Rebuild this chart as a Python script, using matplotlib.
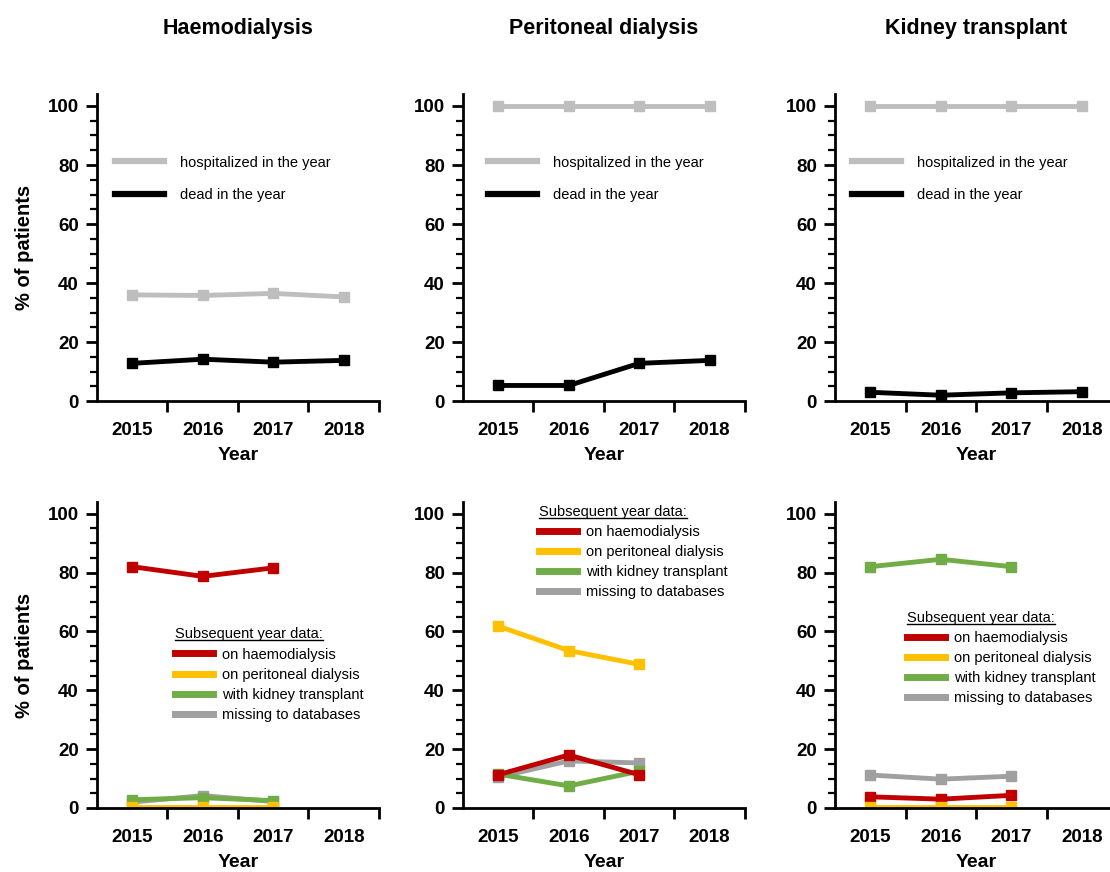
import numpy as np
import matplotlib
matplotlib.use("Agg")
import matplotlib.pyplot as plt
from matplotlib.lines import Line2D
from matplotlib.ticker import MultipleLocator, FixedLocator

plt.rcParams['font.family'] = ['Liberation Sans', 'DejaVu Sans']

years = ['2015', '2016', '2017', '2018']
years_next = ['2015', '2016', '2017']
modalities = ['Haemodialysis', 'Peritoneal dialysis', 'Kidney transplant']

# top row: % hospitalized / dead in the year
hosp_hd = [36.0, 35.8, 36.5, 35.3]
dead_hd = [12.8, 14.2, 13.2, 13.8]
hosp_pd = [100, 100, 100, 100]
dead_pd = [5.3, 5.3, 12.8, 13.8]
hosp_tx = [100, 100, 100, 100]
dead_tx = [3.0, 2.0, 2.8, 3.2]

# bottom row: status in the subsequent year
next_hd_hd = [82.0, 78.7, 81.6]
next_hd_pd = [0.3, 0.3, 0.3]
next_hd_tx = [2.8, 3.5, 2.5]
next_hd_miss = [2.0, 4.2, 2.2]

next_pd_hd = [11.3, 18.0, 11.3]
next_pd_pd = [61.8, 53.5, 48.8]
next_pd_tx = [11.5, 7.5, 12.5]
next_pd_miss = [10.5, 16.0, 15.3]

next_tx_hd = [3.8, 3.0, 4.3]
next_tx_pd = [0.3, 0.3, 0.3]
next_tx_tx = [82.0, 84.5, 82.0]
next_tx_miss = [11.2, 9.8, 10.8]

top_labels = ['hospitalized in the year', 'dead in the year']
top_colors = ['#BEBEBE', '#000000']
bot_labels = ['on haemodialysis', 'on peritoneal dialysis',
              'with kidney transplant', 'missing to databases']
bot_colors = ['#C00000', '#FFC000', '#70AD47', '#A0A0A0']

top_data = [(hosp_hd, dead_hd), (hosp_pd, dead_pd), (hosp_tx, dead_tx)]
bot_data = [(next_hd_hd, next_hd_pd, next_hd_tx, next_hd_miss),
            (next_pd_hd, next_pd_pd, next_pd_tx, next_pd_miss),
            (next_tx_hd, next_tx_pd, next_tx_tx, next_tx_miss)]
# draw order in each bottom panel (last on top)
bot_order = [[3, 2, 1, 0], [3, 2, 0, 1], [3, 0, 1, 2]]

fig = plt.figure(figsize=(11.1, 8.72), dpi=100)

lefts = [0.0874, 0.4171, 0.7523]
width = 0.254
top_leg_x = [0.064, 0.089, 0.06]
bot_leg_pos = [(0.277, 0.59), (0.27, 0.99), (0.255, 0.645)]


def style_axis(ax, first):
    x = np.arange(1, 5)
    ax.set_xlim(0.5, 4.5)
    ax.set_ylim(0, 104)
    ax.xaxis.set_major_locator(FixedLocator(x))
    ax.set_xticklabels(years)
    ax.xaxis.set_minor_locator(FixedLocator(x + 0.5))
    ax.tick_params(axis='x', which='major', length=0, pad=15, labelsize=13.5)
    ax.tick_params(axis='x', which='minor', length=8, width=2, direction='out')
    ax.yaxis.set_major_locator(MultipleLocator(20))
    ax.yaxis.set_minor_locator(MultipleLocator(5))
    ax.tick_params(axis='y', which='major', length=8, width=2, labelsize=13.5, pad=5)
    ax.tick_params(axis='y', which='minor', length=5, width=1.6)
    for lab in ax.get_xticklabels() + ax.get_yticklabels():
        lab.set_fontweight('bold')
    for s in ['top', 'right']:
        ax.spines[s].set_visible(False)
    for s in ['left', 'bottom']:
        ax.spines[s].set_linewidth(2)
    ax.set_xlabel('Year', fontsize=14, fontweight='bold', labelpad=6)
    if first:
        ax.set_ylabel('% of patients', fontsize=14.5, fontweight='bold', labelpad=10)


titles = []
for i in range(3):
    ax = fig.add_axes([lefts[i], 0.540, width, 0.352])
    style_axis(ax, i == 0)
    ax.set_title(modalities[i], fontsize=15.5, fontweight='bold', pad=43)
    x = np.arange(1, len(years) + 1)
    for vals, c in zip(top_data[i], top_colors):
        ax.plot(x, vals, color=c, lw=3.5, marker='s', ms=7, solid_joinstyle='round')
    handles = [Line2D([], [], color=c, lw=4.5) for c in top_colors]
    ax.legend(handles, top_labels, loc='upper left', bbox_to_anchor=(top_leg_x[i], 0.80),
              frameon=False, fontsize=10.5, handlelength=3.35, handletextpad=1.1,
              labelspacing=1.25, borderpad=0, borderaxespad=0)

    ax = fig.add_axes([lefts[i], 0.0734, width, 0.351])
    style_axis(ax, i == 0)
    x = np.arange(1, len(years_next) + 1)
    for k in bot_order[i]:
        ax.plot(x, bot_data[i][k], color=bot_colors[k], lw=3.5, marker='s', ms=7,
                solid_joinstyle='round')
    handles = [Line2D([], [], color=c, lw=5) for c in bot_colors]
    leg = ax.legend(handles, bot_labels, loc='upper left', bbox_to_anchor=bot_leg_pos[i],
                    frameon=False, fontsize=10.5, handlelength=2.6, handletextpad=0.6,
                    labelspacing=0.42, borderpad=0, borderaxespad=0,
                    title='Subsequent year data:', title_fontsize=10.5, alignment='left')
    titles.append(leg.get_title())

# underline the legend titles
fig.canvas.draw()
renderer = fig.canvas.get_renderer()
inv = fig.transFigure.inverted()
for t in titles:
    bb = t.get_window_extent(renderer)
    (x0, y0), (x1, _) = inv.transform([(bb.x0, bb.y0 + 1), (bb.x1, bb.y0 + 1)])
    fig.add_artist(Line2D([x0, x1], [y0, y0], color='black', lw=1.0,
                          transform=fig.transFigure))

fig.savefig('out.png', dpi=100)
